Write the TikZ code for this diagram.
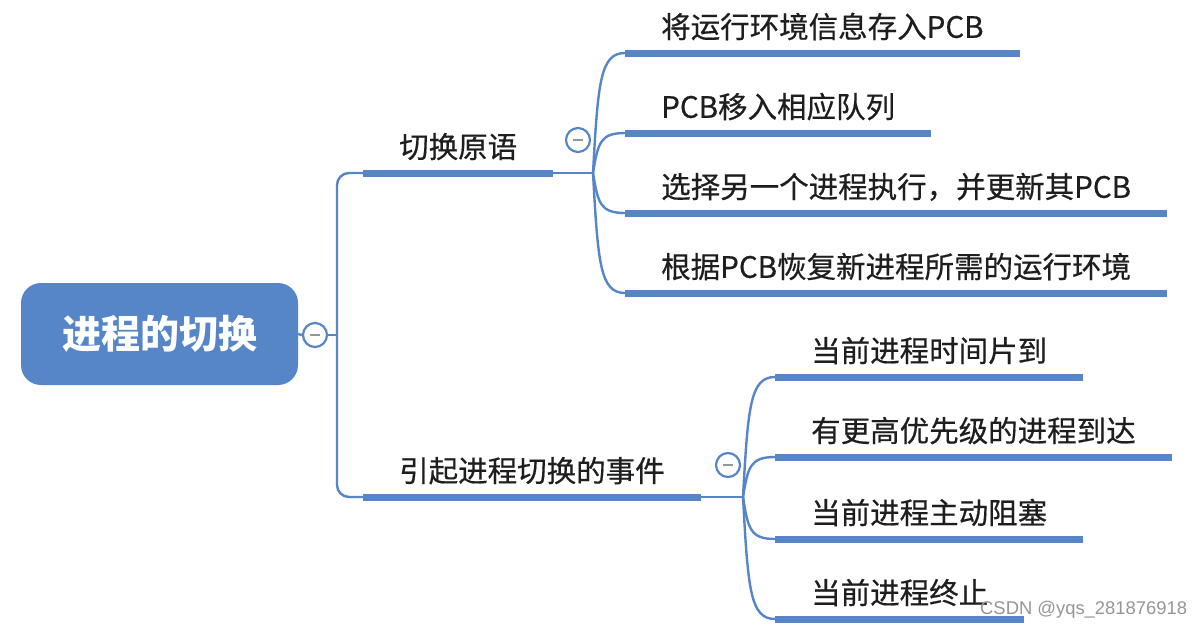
\documentclass[tikz,border=0pt]{standalone}
\usepackage{fontspec}
\setmainfont{Noto Sans CJK SC}
\newfontfamily\topicfont[FakeBold=0.5]{Noto Sans CJK SC}
\newfontfamily\markfont{Liberation Sans}
\usepackage{xcolor}
\definecolor{mapBlue}{RGB}{86,134,200}
\definecolor{mapText}{RGB}{30,30,30}
\definecolor{mapGray}{RGB}{150,150,150}
\usepackage{tikz}
\usetikzlibrary{positioning,calc}
\newcommand{\foldmark}{\textcolor{mapGray}{\rule{10pt}{2.5pt}}}
\tikzset{
  rootbox/.style={rectangle,fill=mapBlue,rounded corners=20pt,
    minimum width=277pt,minimum height=102pt,text=white,
    font=\fontsize{39}{44}\selectfont\bfseries},
  topic/.style={anchor=south west,inner xsep=36pt,inner ysep=0pt,
    text height=25pt,text depth=15pt,text=mapText,
    font=\topicfont\fontsize{29.5}{34}\selectfont},
  uline/.style={draw=mapBlue,line width=7pt},
  link/.style={draw=mapBlue,line width=2.4pt},
  fold/.style={circle,draw=mapBlue,line width=2.2pt,fill=white,
    minimum size=24pt,inner sep=0pt}
}

\begin{document}
\begin{tikzpicture}[x=1pt,y=-1pt]
  \useasboundingbox[fill=white] (0,0) rectangle (1202,630);

  \node[rootbox] (root) at (159.5,334) {进程的切换};
  \node[fold] (f0) at (315,335) {\foldmark};
  \coordinate (spine) at (337,335);

  % branches
  \node[topic] (b1) at (363,173) {切换原语};
  \node[topic] (b2) at (363,497) {引起进程切换的事件};
  \coordinate (h1) at (593,173);
  \coordinate (h2) at (743,497);
  \node[fold] (f1) at (578,140) {\foldmark};
  \node[fold] (f2) at (728,465) {\foldmark};

  % leaves
  \node[topic] (a1) at (625,53) {将运行环境信息存入PCB};
  \node[topic] (a2) at (625,133) {PCB移入相应队列};
  \node[topic] (a3) at (625,213) {选择另一个进程执行，并更新其PCB};
  \node[topic] (a4) at (625,293) {根据PCB恢复新进程所需的运行环境};
  \node[topic] (c1) at (775,377) {当前进程时间片到};
  \node[topic] (c2) at (775,457) {有更高优先级的进程到达};
  \node[topic] (c3) at (775,539) {当前进程主动阻塞};
  \node[topic] (c4) at (775,619) {当前进程终止};

  \foreach \t in {b1,b2,a1,a2,a3,a4,c1,c2,c3,c4}
    \draw[uline] (\t.south west) -- (\t.south east);

  \draw[link] (root.east) -- (f0.west);
  \draw[link] (f0.east) -- (spine);
  \draw[link,rounded corners=12pt] (b1.south west) -| (spine) |- (b2.south west);
  \draw[link] (b1.south east) -- (h1);
  \draw[link] (b2.south east) -- (h2);

  \foreach \t in {a1,a2,a3,a4}
    \draw[link] (h1) .. controls ($(h1)!.75!(h1 |- \t.south west)+(5,0)$)
      and ($(\t.south west)+(-25,0)$) .. (\t.south west);
  \foreach \t in {c1,c2,c3,c4}
    \draw[link] (h2) .. controls ($(h2)!.75!(h2 |- \t.south west)+(5,0)$)
      and ($(\t.south west)+(-25,0)$) .. (\t.south west);

  \node[anchor=west,text=mapGray,font=\markfont\fontsize{18.4}{22}\selectfont,
    inner sep=0pt] (mark) at (980,610) {CSDN @yqs\_281876918};
\end{tikzpicture}
\end{document}
